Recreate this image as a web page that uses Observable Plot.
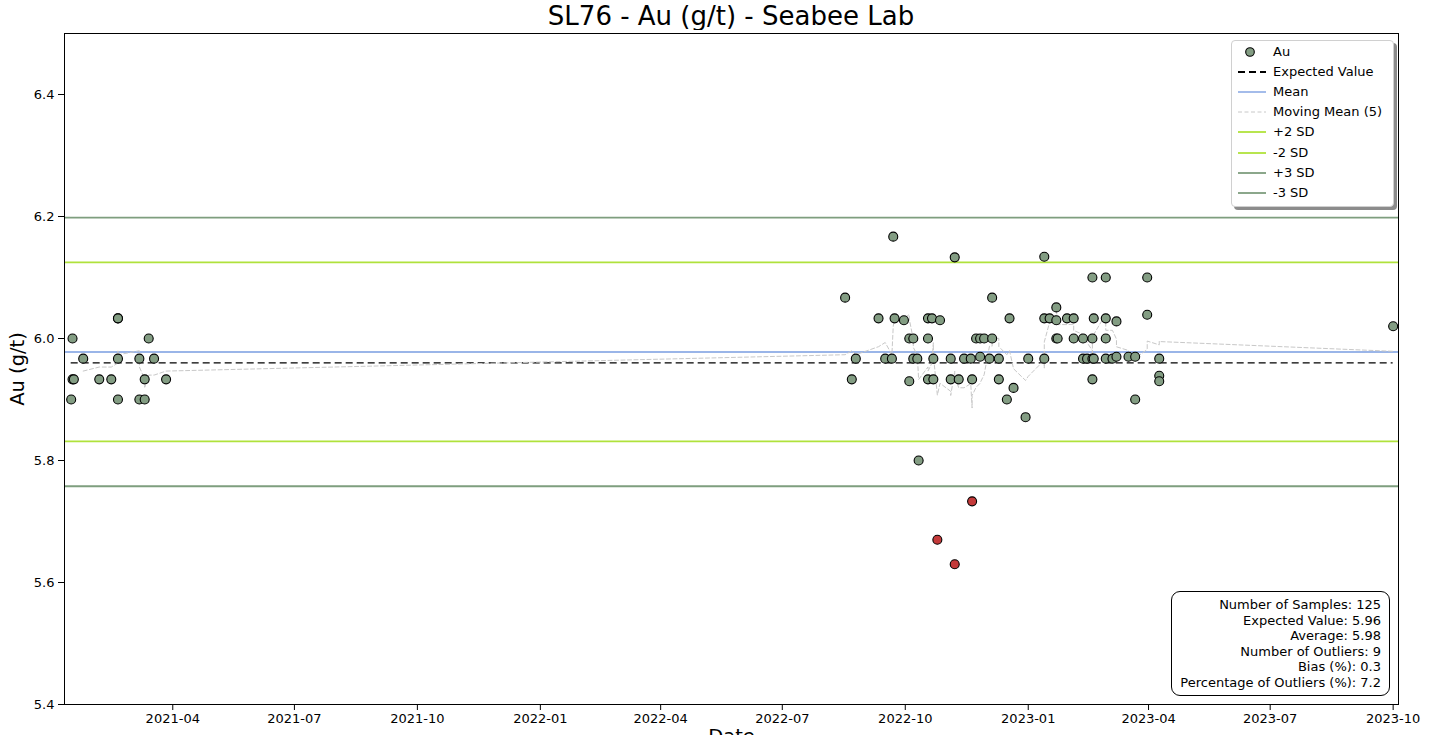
<!DOCTYPE html>
<html>
<head>
<meta charset="utf-8">
<script src="https://cdn.jsdelivr.net/npm/d3@7"></script>
<script src="https://cdn.jsdelivr.net/npm/@observablehq/plot@0.6"></script>
<style>
  html, body { margin: 0; padding: 0; background: white; }
  #wrap { position: relative; width: 1430px; height: 735px; overflow: hidden; font-family: "DejaVu Sans", sans-serif; }
  #title { position: absolute; left: 64px; width: 1334px; top: 0; height: 33px; line-height: 33px; text-align: center; font-size: 26px; color: #000; }
  #chart { position: absolute; left: 0; top: 30px; }
  #legend { position: absolute; left: 1231px; top: 40px; width: 161px; height: 165px; background: white;
            border: 1px solid #d0d0d0; border-radius: 4px; box-shadow: 3px 3px 0 rgba(0,0,0,0.45); }
  .lrow { position: absolute; left: 0; height: 20px; width: 100%; font-size: 13px; color: #000; }
  .lrow svg { position: absolute; left: 4px; top: 0; }
  .lrow span { position: absolute; left: 41px; top: 2px; white-space: nowrap; }
  #stats { position: absolute; left: 1171px; top: 591px; width: 219px; height: 105px; background: white;
           border: 1px solid #000; border-radius: 9px; box-sizing: border-box; padding: 5px 8px 0 0;
           text-align: right; font-size: 13px; line-height: 15.6px; color: #000; }
</style>
</head>
<body>
<div id="wrap">
  <div id="title"></div>
  <div id="chart"></div>
  <div id="legend"></div>
  <div id="stats"></div>
</div>
<script>
// ---- data ----
const titleText = "SL76 - Au (g/t) - Seabee Lab";
const sampleDates = [
  "2021-01-15","2021-01-16","2021-01-16","2021-01-17","2021-01-24","2021-02-05","2021-02-14",
  "2021-02-19","2021-02-19","2021-02-19","2021-02-19","2021-03-07","2021-03-07","2021-03-11",
  "2021-03-11","2021-03-14","2021-03-18","2021-03-27",
  "2022-08-17","2022-08-22","2022-08-25","2022-09-11","2022-09-16","2022-09-21","2022-09-22",
  "2022-09-23","2022-09-30","2022-10-04","2022-10-04","2022-10-07","2022-10-07","2022-10-10",
  "2022-10-11","2022-10-18","2022-10-18","2022-10-18","2022-10-21","2022-10-22","2022-10-22",
  "2022-10-25","2022-10-27","2022-11-04","2022-11-04","2022-11-07","2022-11-07","2022-11-10",
  "2022-11-14","2022-11-19","2022-11-20","2022-11-20","2022-11-23","2022-11-26","2022-11-26",
  "2022-11-29","2022-12-03","2022-12-05","2022-12-05","2022-12-10","2022-12-10","2022-12-16",
  "2022-12-18","2022-12-21","2022-12-30","2023-01-01","2023-01-13","2023-01-13","2023-01-13",
  "2023-01-17","2023-01-22","2023-01-22","2023-01-22","2023-01-23","2023-01-30","2023-02-04",
  "2023-02-04","2023-02-11","2023-02-11","2023-02-14","2023-02-18","2023-02-18","2023-02-18",
  "2023-02-18","2023-02-19","2023-02-19","2023-02-28","2023-02-28","2023-02-28","2023-02-28",
  "2023-03-05","2023-03-08","2023-03-08","2023-03-17","2023-03-22","2023-03-22","2023-03-31",
  "2023-03-31","2023-04-09","2023-04-09","2023-04-09","2023-10-01"
];
const auValues = [
  5.900,5.933,6.000,5.933,5.967,5.933,5.933,
  6.033,6.033,5.967,5.900,5.967,5.900,5.933,
  5.900,6.000,5.967,5.933,
  6.067,5.933,5.967,6.033,5.967,5.967,6.167,
  6.033,6.030,6.000,5.930,6.000,5.967,5.967,
  5.800,6.033,6.000,5.933,6.033,5.967,5.933,
  5.670,6.030,5.967,5.933,6.133,5.630,5.933,
  5.967,5.967,5.933,5.733,6.000,6.000,5.970,
  6.000,5.967,6.000,6.067,5.967,5.933,5.900,
  6.033,5.919,5.871,5.967,6.033,5.967,6.134,
  6.033,6.030,6.051,6.000,6.000,6.033,6.033,
  6.000,5.967,6.000,5.967,5.967,5.933,6.100,
  6.000,6.033,5.967,6.100,6.033,6.000,5.967,
  5.967,6.028,5.970,5.970,5.900,5.970,6.100,
  6.039,5.939,5.930,5.967,6.020
];
const expectedValue = 5.96;
const meanValue = 5.978;
const sdValue = 0.0734;
const movingWindow = 5;
const xDomain = ["2021-01-10", "2023-10-05"];
const yDomain = [5.4, 6.5];
const yTicks = [5.4, 5.6, 5.8, 6.0, 6.2, 6.4];
const xTicks = ["2021-04-01","2021-07-01","2021-10-01","2022-01-01","2022-04-01","2022-07-01",
                "2022-10-01","2023-01-01","2023-04-01","2023-07-01","2023-10-01"];
const legendLabels = ["Au","Expected Value","Mean","Moving Mean (5)","+2 SD","-2 SD","+3 SD","-3 SD"];
const statsLabels = ["Number of Samples","Expected Value","Average","Number of Outliers","Bias (%)","Percentage of Outliers (%)"];
const statsValues = ["125","5.96","5.98","9","0.3","7.2"];

// ---- colors ----
const C = {
  point: "#839d83", outlier: "#c43a3a", expected: "#000000", mean: "#9ab5e8",
  moving: "#c8c8c8", sd2: "#b0e23c", sd3: "#7e9e7e"
};

const parse = s => new Date(s + "T00:00:00Z");
const data = sampleDates.map((d, i) => ({date: parse(d), value: auValues[i]}));
const lo3 = meanValue - 3 * sdValue, hi3 = meanValue + 3 * sdValue;
const isOut = d => d.value < lo3 || d.value > hi3;
const firstDate = data[0].date, lastDate = data[data.length - 1].date;

const sdRules = [
  {y: meanValue + 2 * sdValue, c: C.sd2},
  {y: meanValue - 2 * sdValue, c: C.sd2},
  {y: meanValue + 3 * sdValue, c: C.sd3},
  {y: meanValue - 3 * sdValue, c: C.sd3}
];

document.getElementById("title").textContent = titleText;

const chart = Plot.plot({
  width: 1430, height: 720,
  marginLeft: 64, marginRight: 32, marginTop: 3, marginBottom: 46,
  style: {fontFamily: "DejaVu Sans", fontSize: "13px", background: "white", color: "black", overflow: "visible"},
  x: {type: "utc", domain: xDomain.map(parse)},
  y: {domain: yDomain},
  marks: [
    Plot.ruleY(sdRules, {y: "y", stroke: "c", strokeWidth: 1.8}),
    Plot.ruleY([meanValue], {stroke: C.mean, strokeWidth: 2}),
    Plot.ruleY([{y: expectedValue, x1: firstDate, x2: lastDate}],
      {y: "y", x1: "x1", x2: "x2", stroke: C.expected, strokeWidth: 1.4, strokeDasharray: "7,4"}),
    Plot.lineY(data, Plot.windowY({k: movingWindow, anchor: "end", strict: true},
      {x: "date", y: "value", stroke: C.moving, strokeWidth: 1, strokeDasharray: "4,2.5"})),
    Plot.dot(data.filter(d => !isOut(d)), {x: "date", y: "value", r: 4.5, fill: C.point, stroke: "#000", strokeWidth: 1.1}),
    Plot.dot(data.filter(isOut), {x: "date", y: "value", r: 4.5, fill: C.outlier, stroke: "#000", strokeWidth: 1.1}),
    Plot.frame({stroke: "black", strokeWidth: 1}),
    Plot.axisX({ticks: xTicks.map(parse), tickFormat: d3.utcFormat("%Y-%m"), tickSize: 6, tickPadding: 3, label: null, fontSize: 13}),
    Plot.axisY({ticks: yTicks, tickFormat: d3.format(".1f"), tickSize: 6, tickPadding: 4, label: null, fontSize: 13}),
    Plot.text(["Au (g/t)"], {frameAnchor: "left", rotate: -90, dx: -47, fontSize: 19.5, textAnchor: "middle"}),
    Plot.text(["Date"], {frameAnchor: "bottom", dy: 25, lineAnchor: "top", fontSize: 19.5})
  ]
});
document.getElementById("chart").appendChild(chart);

// ---- legend ----
const legend = document.getElementById("legend");
const handles = [
  `<circle cx="14" cy="10" r="4.3" fill="${C.point}" stroke="#000" stroke-width="1.1"/>`,
  `<line x1="2" x2="30" y1="10" y2="10" stroke="#000" stroke-width="1.8" stroke-dasharray="7,4"/>`,
  `<line x1="2" x2="30" y1="10" y2="10" stroke="${C.mean}" stroke-width="1.8"/>`,
  `<line x1="2" x2="30" y1="10" y2="10" stroke="${C.moving}" stroke-width="1" stroke-dasharray="4,2.5"/>`,
  `<line x1="2" x2="30" y1="10" y2="10" stroke="${C.sd2}" stroke-width="1.8"/>`,
  `<line x1="2" x2="30" y1="10" y2="10" stroke="${C.sd2}" stroke-width="1.8"/>`,
  `<line x1="2" x2="30" y1="10" y2="10" stroke="${C.sd3}" stroke-width="1.8"/>`,
  `<line x1="2" x2="30" y1="10" y2="10" stroke="${C.sd3}" stroke-width="1.8"/>`
];
legendLabels.forEach((lab, i) => {
  const row = document.createElement("div");
  row.className = "lrow";
  row.style.top = (1 + i * 20.1) + "px";
  row.innerHTML = `<svg width="34" height="20">${handles[i]}</svg><span>${lab}</span>`;
  legend.appendChild(row);
});

// ---- stats box ----
document.getElementById("stats").innerHTML =
  statsLabels.map((l, i) => `<div>${l}: ${statsValues[i]}</div>`).join("");
</script>
</body>
</html>
